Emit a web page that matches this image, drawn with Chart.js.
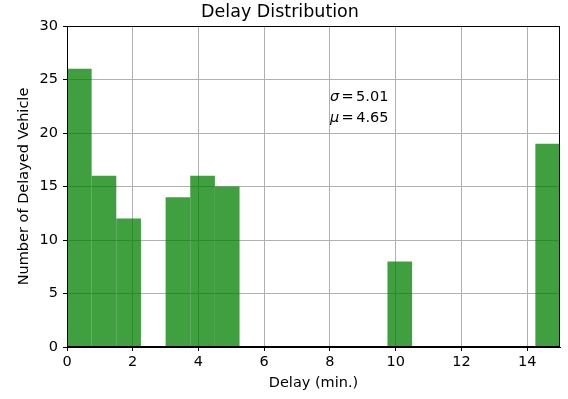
<!DOCTYPE html>
<html>
<head>
<meta charset="utf-8">
<script src="https://cdn.jsdelivr.net/npm/chart.js@4/dist/chart.umd.min.js"></script>
<style>
  html, body { margin: 0; padding: 0; background: #fff; }
  #wrap { width: 568px; height: 399px; }
</style>
</head>
<body>
<div id="wrap"><canvas id="hist"></canvas></div>
<script>
// histogram bins (minutes) and counts
const binEdges = [0, 0.75, 1.5, 2.25, 3, 3.75, 4.5, 5.25, 6, 6.75, 7.5,
                  8.25, 9, 9.75, 10.5, 11.25, 12, 12.75, 13.5, 14.25, 15];
const counts = [26, 16, 12, 0, 14, 16, 15, 0, 0, 0,
                0, 0, 0, 8, 0, 0, 0, 0, 0, 19];
const xTicks = [0, 2, 4, 6, 8, 10, 12, 14];
const yTicks = [0, 5, 10, 15, 20, 25, 30];
const statLines = [["\u03c3", "\u2006=\u20065.01"], ["\u03bc", "\u2006=\u20064.65"]];
const statPos = { x: 8, y: 21 };

const FONT = "'DejaVu Sans', sans-serif";

const points = counts.map((c, i) => ({ x: (binEdges[i] + binEdges[i + 1]) / 2, y: c }));

// frame + sigma/mu text
const extras = {
  id: "extras",
  afterDatasetsDraw(chart) {
    const ctx = chart.ctx;
    const a = chart.chartArea;
    ctx.save();
    ctx.strokeStyle = "#000";
    ctx.lineWidth = 1;
    ctx.strokeRect(Math.round(a.left) + 0.5, Math.round(a.top) + 0.5,
                   Math.round(a.right - a.left) - 1, Math.round(a.bottom - a.top) - 1);

    const px = chart.scales.x.getPixelForValue(statPos.x);
    let py = chart.scales.y.getPixelForValue(statPos.y);
    ctx.fillStyle = "#000";
    ctx.textBaseline = "alphabetic";
    for (let i = statLines.length - 1; i >= 0; i--) {
      const [sym, rest] = statLines[i];
      ctx.font = "italic 14.5px " + FONT;
      ctx.fillText(sym, px, py);
      const w = ctx.measureText(sym).width;
      ctx.font = "14.5px " + FONT;
      ctx.fillText(rest, px + w, py);
      py -= 21;
    }
    ctx.restore();
  }
};

new Chart(document.getElementById("hist"), {
  type: "bar",
  data: {
    datasets: [{
      data: points,
      backgroundColor: "rgba(0,128,0,0.75)",
      borderWidth: 0,
      inflateAmount: 0,
      barPercentage: 1,
      categoryPercentage: 1,
      grouped: false
    }]
  },
  options: {
    responsive: true,
    maintainAspectRatio: false,
    animation: false,
    layout: { padding: { left: 0, right: 8, top: 0, bottom: 0 } },
    plugins: {
      legend: { display: false },
      tooltip: { enabled: false },
      title: {
        display: true,
        text: "Delay Distribution",
        color: "#000",
        font: { family: FONT, size: 17.5, weight: "normal" },
        padding: { top: 2, bottom: 3 }
      }
    },
    scales: {
      x: {
        type: "linear",
        min: 0,
        max: 15,
        offset: false,
        afterBuildTicks: s => { s.ticks = xTicks.map(v => ({ value: v })); },
        afterFit: s => { s.height = 52; },
        grid: { offset: false, color: "#b0b0b0", tickColor: "#000", tickLength: 4, lineWidth: 1 },
        border: { color: "#000" },
        ticks: { color: "#000", font: { family: FONT, size: 14.5 }, padding: 3, maxRotation: 0 },
        title: {
          display: true,
          text: "Delay (min.)",
          color: "#000",
          font: { family: FONT, size: 14.5 },
          padding: { top: 0, bottom: 7 }
        }
      },
      y: {
        min: 0,
        max: 30,
        afterBuildTicks: s => { s.ticks = yTicks.map(v => ({ value: v })); },
        afterFit: s => { s.width = 67; },
        grid: { color: "#b0b0b0", tickColor: "#000", tickLength: 4, lineWidth: 1 },
        border: { color: "#000" },
        ticks: { color: "#000", font: { family: FONT, size: 14.5 }, padding: 5 },
        title: {
          display: true,
          text: "Number of Delayed Vehicle",
          color: "#000",
          font: { family: FONT, size: 14.5 },
          padding: { top: 16, bottom: 0 }
        }
      }
    }
  },
  plugins: [extras]
});
</script>
</body>
</html>
